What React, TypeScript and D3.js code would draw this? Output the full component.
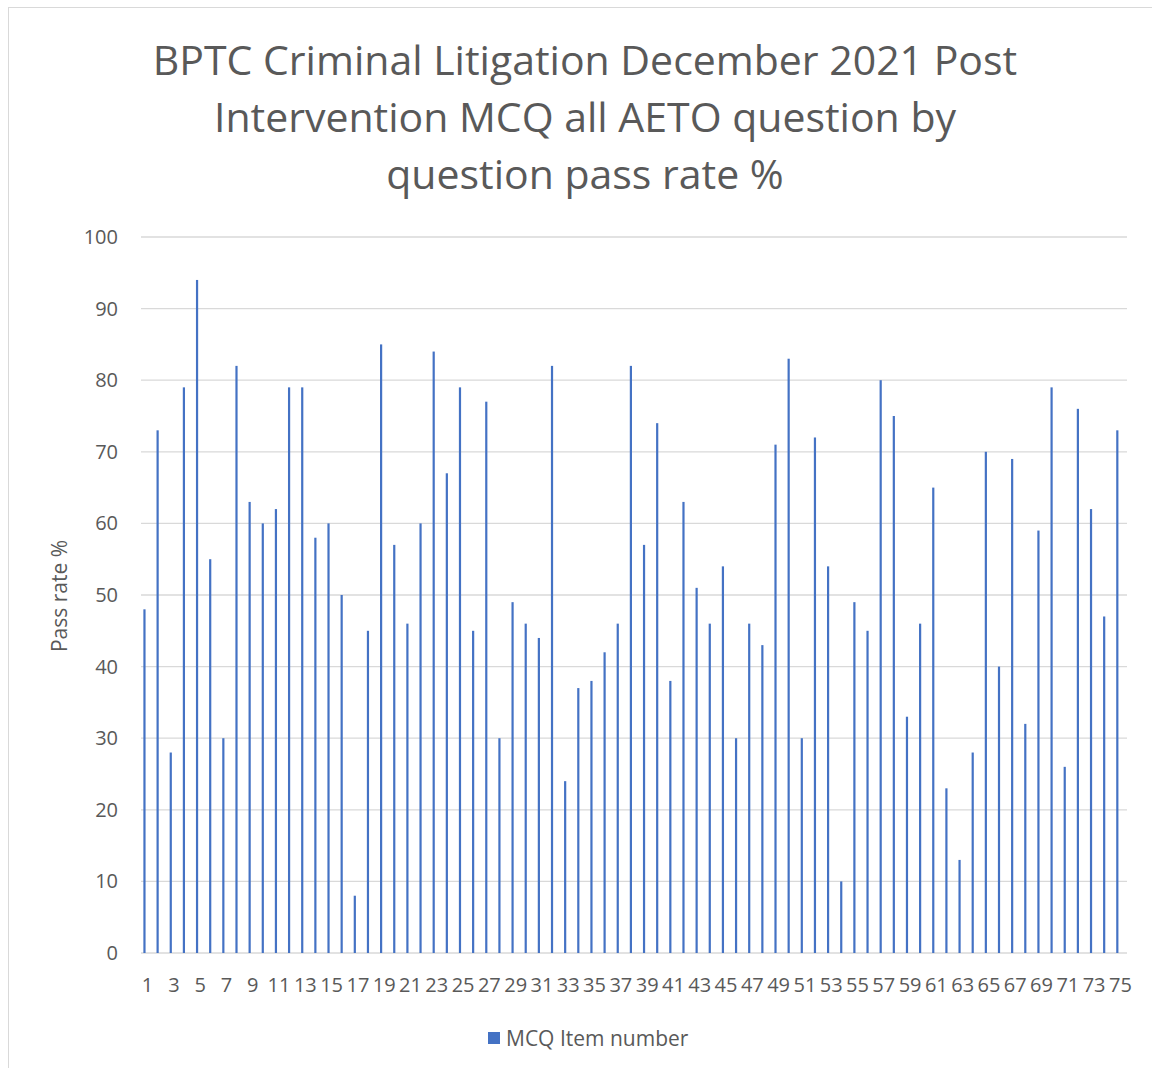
import React from 'react'
import * as d3 from 'd3'

// pass rate % per MCQ item (1..75)
const items = d3.range(1, 76)
const passRates = [
  48, 73, 28, 79, 94, 55, 30, 82, 63, 60,
  62, 79, 79, 58, 60, 50, 8, 45, 85, 57,
  46, 60, 84, 67, 79, 45, 77, 30, 49, 46,
  44, 82, 24, 37, 38, 42, 46, 82, 57, 74,
  38, 63, 51, 46, 54, 30, 46, 43, 71, 83,
  30, 72, 54, 10, 49, 45, 80, 75, 33, 46,
  65, 23, 13, 28, 70, 40, 69, 32, 59, 79,
  26, 76, 62, 47, 73,
]
const yTicks = [0, 10, 20, 30, 40, 50, 60, 70, 80, 90, 100]
const titleLines = [
  'BPTC Criminal Litigation December 2021 Post',
  'Intervention MCQ all AETO question by',
  'question pass rate %',
]
const seriesName = 'MCQ Item number'
const yLabel = 'Pass rate %'

const W = 1152
const H = 1068
const FONT = '"Open Sans", "DejaVu Sans", sans-serif'
const TEXT = '#595959'
const BAR = '#4472C4'
const GRID = '#D9D9D9'

export default function App() {
  const x = d3.scaleBand<number>().domain(items).range([141, 1127]).padding(0)
  const y = d3.scaleLinear().domain([0, 100]).range([953, 237])
  const bw = x.bandwidth()

  return (
    <svg
      width={W}
      height={H}
      style={{ position: 'absolute', left: 0, top: 0, background: '#fff' }}
      fontFamily={FONT}
    >
      <rect x={8.5} y={7.5} width={W + 20} height={H + 20} fill="#fff" stroke="#D9D9D9" strokeWidth={1} />

      {/* title */}
      {titleLines.map((t, i) => (
        <text key={i} x={585} y={75 + i * 57} textAnchor="middle" fontSize={41} fill={TEXT}>
          {t}
        </text>
      ))}

      {/* gridlines */}
      {yTicks.map(t => (
        <line key={t} x1={141} x2={1127} y1={y(t)} y2={y(t)} stroke={GRID} strokeWidth={1.3} />
      ))}

      {/* y tick labels */}
      {yTicks.map(t => (
        <text key={'l' + t} x={118} y={y(t) + 7} textAnchor="end" fontSize={20} fill={TEXT}>
          {t}
        </text>
      ))}

      {/* bars */}
      {passRates.map((v, i) => (
        <rect
          key={i}
          x={(x(items[i]) as number) + bw * 0.18}
          y={y(v)}
          width={2.2}
          height={y(0) - y(v)}
          fill={BAR}
        />
      ))}

      {/* x tick labels, every other item */}
      {items.filter(d => d % 2 === 1).map(d => (
        <text key={d} x={(x(d) as number) + bw / 2} y={992} textAnchor="middle" fontSize={20} fill={TEXT}>
          {d}
        </text>
      ))}

      {/* y axis title */}
      <text
        transform="translate(67,596) rotate(-90)"
        textAnchor="middle"
        fontSize={21}
        fill={TEXT}
      >
        {yLabel}
      </text>

      {/* legend */}
      <rect x={488} y={1032} width={12} height={12} fill={BAR} />
      <text x={506} y={1046} fontSize={21} fill={TEXT}>
        {seriesName}
      </text>
    </svg>
  )
}
